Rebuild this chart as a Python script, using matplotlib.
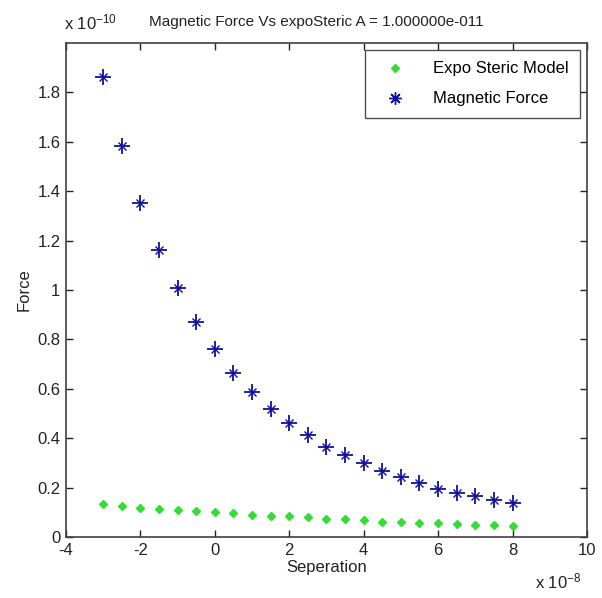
import matplotlib.pyplot as plt
import numpy as np

plt.rcParams['font.family'] = ['Liberation Sans Narrow', 'Liberation Sans', 'DejaVu Sans']

# separation in units of 1e-8
separation = [-3, -2.5, -2, -1.5, -1, -0.5, 0, 0.5, 1, 1.5, 2, 2.5, 3, 3.5,
              4, 4.5, 5, 5.5, 6, 6.5, 7, 7.5, 8]
# forces in units of 1e-10
magnetic = [1.864, 1.583, 1.353, 1.162, 1.007, 0.872, 0.760, 0.665, 0.588,
            0.518, 0.460, 0.413, 0.366, 0.332, 0.298, 0.267, 0.242, 0.219,
            0.196, 0.177, 0.166, 0.150, 0.136]
expo_steric = [0.135, 0.126, 0.119, 0.113, 0.108, 0.104, 0.102, 0.096, 0.089,
               0.085, 0.085, 0.080, 0.074, 0.074, 0.067, 0.062, 0.060, 0.057,
               0.055, 0.051, 0.050, 0.050, 0.045]

fig = plt.figure(figsize=(6.02, 5.98), dpi=100)
ax = fig.add_axes([0.1096, 0.102, 0.8654, 0.826])

ax.plot(separation, expo_steric, linestyle='none', marker='D', markersize=3.6,
        color='#33dd33', label='Expo Steric Model')
ax.plot(separation, magnetic, linestyle='none', marker='+', markersize=11,
        markeredgewidth=1.3, color='#10109a')
ax.plot(separation, magnetic, linestyle='none', marker='x', markersize=6,
        markeredgewidth=1.0, color='#10109a')
# legend proxy for the combined asterisk marker
ax.plot([], [], linestyle='none', marker=(8, 2, 0), markersize=9,
        markeredgewidth=1.0, color='#10109a', label='Magnetic Force')

ax.set_xlim(-4, 10)
ax.set_ylim(0, 2.0)
ax.set_xticks(np.arange(-4, 11, 2))
ax.set_xticklabels(['-4', '-2', '0', '2', '4', '6', '8', '10'])
yt = [0, 0.2, 0.4, 0.6, 0.8, 1.0, 1.2, 1.4, 1.6, 1.8]
ax.set_yticks(yt)
ax.set_yticklabels(['0', '0.2', '0.4', '0.6', '0.8', '1', '1.2', '1.4', '1.6', '1.8'])
ax.tick_params(direction='in', length=5, width=1, top=True, right=True,
               labelsize=12, colors='#222222', pad=4)
for s in ax.spines.values():
    s.set_color('#404040')
    s.set_linewidth(1.2)

ax.set_xlabel('Seperation', fontsize=12, color='#222222', labelpad=2)
ax.set_ylabel('Force', fontsize=12, color='#222222', labelpad=4)
fig.text(0.525, 0.964, 'Magnetic Force Vs expoSteric A = 1.000000e-011',
         ha='center', va='center', fontsize=11, color='#222222')
fig.text(0.107, 0.962, r'x $\mathregular{10^{-10}}$', ha='left', va='center',
         fontsize=12, color='#222222')
fig.text(0.888, 0.028, r'x $\mathregular{10^{-8}}$', ha='left', va='center',
         fontsize=12, color='#222222')

leg = ax.legend(loc='upper right', fontsize=12, frameon=True, fancybox=False,
                edgecolor='#222222', borderaxespad=0.4, handletextpad=1.2,
                handlelength=2.2, borderpad=0.7, labelspacing=0.9)
leg.get_frame().set_linewidth(1.0)

fig.savefig('out.png', dpi=100)
